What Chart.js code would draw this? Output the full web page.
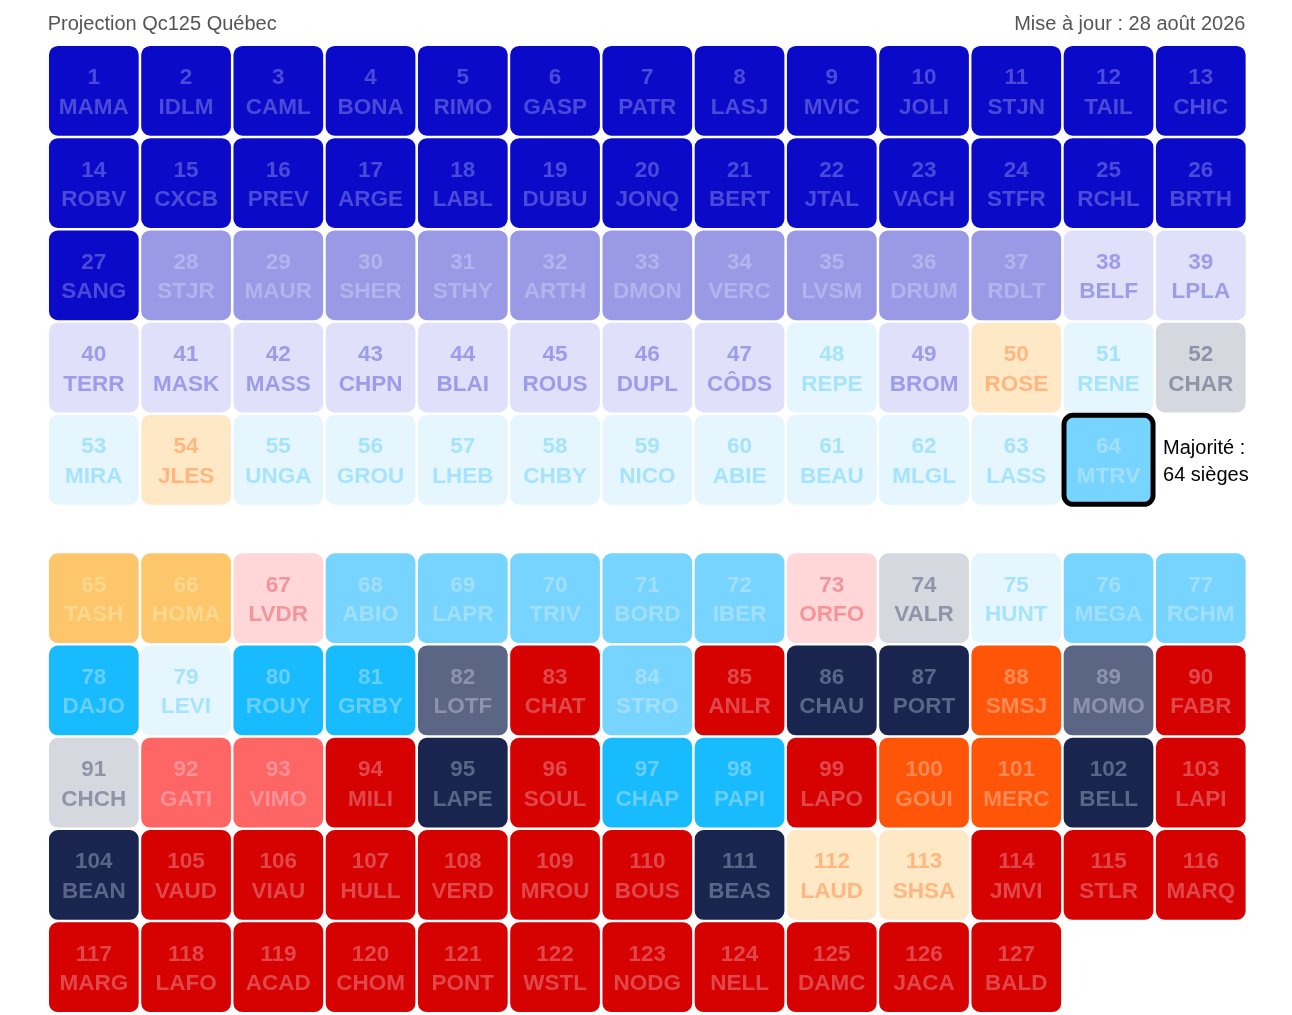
<!DOCTYPE html>
<html lang="fr">
<head>
<meta charset="utf-8">
<title>Projection Qc125 Québec</title>
<script src="https://cdn.jsdelivr.net/npm/chart.js@4.4.1/dist/chart.umd.min.js"></script>
<style>
  html, body { margin: 0; padding: 0; background: #ffffff; }
  #wrap { position: relative; width: 1292px; height: 1015px; }
</style>
</head>
<body>
<div id="wrap"><canvas id="chart"></canvas></div>
<script>
// ---------------- DATA ----------------
const chartTitle = "Projection Qc125 Québec";
const updateText = "Mise à jour : 28 août 2026";
const majorityLines = ["Majorité :", "64 sièges"];
const majoritySeat = 64;
const columnsPerRow = 13;
const columnLabels = ["1","2","3","4","5","6","7","8","9","10","11","12","13"];

const seatCodes = [
  "MAMA","IDLM","CAML","BONA","RIMO","GASP","PATR","LASJ","MVIC","JOLI","STJN","TAIL","CHIC",
  "ROBV","CXCB","PREV","ARGE","LABL","DUBU","JONQ","BERT","JTAL","VACH","STFR","RCHL","BRTH",
  "SANG","STJR","MAUR","SHER","STHY","ARTH","DMON","VERC","LVSM","DRUM","RDLT","BELF","LPLA",
  "TERR","MASK","MASS","CHPN","BLAI","ROUS","DUPL","CÔDS","REPE","BROM","ROSE","RENE","CHAR",
  "MIRA","JLES","UNGA","GROU","LHEB","CHBY","NICO","ABIE","BEAU","MLGL","LASS","MTRV",
  "TASH","HOMA","LVDR","ABIO","LAPR","TRIV","BORD","IBER","ORFO","VALR","HUNT","MEGA","RCHM",
  "DAJO","LEVI","ROUY","GRBY","LOTF","CHAT","STRO","ANLR","CHAU","PORT","SMSJ","MOMO","FABR",
  "CHCH","GATI","VIMO","MILI","LAPE","SOUL","CHAP","PAPI","LAPO","GOUI","MERC","BELL","LAPI",
  "BEAN","VAUD","VIAU","HULL","VERD","MROU","BOUS","BEAS","LAUD","SHSA","JMVI","STLR","MARQ",
  "MARG","LAFO","ACAD","CHOM","PONT","WSTL","NODG","NELL","DAMC","JACA","BALD"
];

// projected status of each seat (party + confidence level)
const seatStatus = [
  "PQ3","PQ3","PQ3","PQ3","PQ3","PQ3","PQ3","PQ3","PQ3","PQ3","PQ3","PQ3","PQ3",
  "PQ3","PQ3","PQ3","PQ3","PQ3","PQ3","PQ3","PQ3","PQ3","PQ3","PQ3","PQ3","PQ3",
  "PQ3","PQ2","PQ2","PQ2","PQ2","PQ2","PQ2","PQ2","PQ2","PQ2","PQ2","PQ1","PQ1",
  "PQ1","PQ1","PQ1","PQ1","PQ1","PQ1","PQ1","PQ1","CAQ1","PQ1","QS1","CAQ1","PCQ1",
  "CAQ1","QS1","CAQ1","CAQ1","CAQ1","CAQ1","CAQ1","CAQ1","CAQ1","CAQ1","CAQ1","CAQ2",
  "QS2","QS2","PLQ1","CAQ2","CAQ2","CAQ2","CAQ2","CAQ2","PLQ1","PCQ1","CAQ1","CAQ2","CAQ2",
  "CAQ3","CAQ1","CAQ3","CAQ3","PCQ2","PLQ3","CAQ2","PLQ3","PCQ3","PCQ3","QS3","PCQ2","PLQ3",
  "PCQ1","PLQ2","PLQ2","PLQ3","PCQ3","PLQ3","CAQ3","CAQ3","PLQ3","QS3","QS3","PCQ3","PLQ3",
  "PCQ3","PLQ3","PLQ3","PLQ3","PLQ3","PLQ3","PLQ3","PCQ3","QS1","QS1","PLQ3","PLQ3","PLQ3",
  "PLQ3","PLQ3","PLQ3","PLQ3","PLQ3","PLQ3","PLQ3","PLQ3","PLQ3","PLQ3","PLQ3"
];

// ---------------- STYLES ----------------
const statusFill = {
  PQ3: "#0c0ac9", PQ2: "#9999e5", PQ1: "#e0e0fb",
  CAQ3: "#18bcfe", CAQ2: "#77d4fe", CAQ1: "#e5f6fe",
  PLQ3: "#d50201", PLQ2: "#fe6565", PLQ1: "#ffd7d9",
  QS3: "#fe5508", QS2: "#fec66a", QS1: "#ffe8c5",
  PCQ3: "#19254f", PCQ2: "#5b6584", PCQ1: "#d5d8df"
};
const statusText = {
  PQ3: "#4b4ad8", PQ2: "#b3b3ee", PQ1: "#9c9cea",
  CAQ3: "#66cffc", CAQ2: "#a0e0fd", CAQ1: "#a6e3fc",
  PLQ3: "#e0474a", PLQ2: "#fe9296", PLQ1: "#f3959b",
  QS3: "#fe8b55", QS2: "#fdd88f", QS1: "#ffb77f",
  PCQ3: "#5a6588", PCQ2: "#8c94ad", PCQ1: "#8e95a9"
};
const FONT = '"Liberation Sans", Arial, Helvetica, sans-serif';
const TILE_GAP = 1.6;

// ---------------- BUILD ----------------
// seats up to the majority fill the upper block, the rest the lower block (half-row gap between)
const tiles = seatCodes.map((code, i) => {
  const lower = i >= majoritySeat;
  const k = lower ? i - majoritySeat : i;
  const row = Math.floor(k / columnsPerRow) + (lower ? 5.5 : 0);
  return { x: columnLabels[k % columnsPerRow], y: [row, row + 1] };
});

const tileLabels = {
  id: 'tileLabels',
  afterDatasetsDraw(chart) {
    const ctx = chart.ctx;
    const meta = chart.getDatasetMeta(0);
    ctx.save();
    meta.data.forEach((bar, i) => {
      const p = bar.getProps(['x', 'y', 'base', 'width'], true);
      const top = Math.min(p.y, p.base), bottom = Math.max(p.y, p.base);
      const cy = (top + bottom) / 2;
      if (i + 1 === majoritySeat) {
        const l = p.x - p.width / 2 + TILE_GAP, r = p.x + p.width / 2 - TILE_GAP;
        const t = top + TILE_GAP, b = bottom - TILE_GAP, rad = 9;
        ctx.beginPath();
        ctx.moveTo(l + rad, t);
        ctx.lineTo(r - rad, t); ctx.arcTo(r, t, r, t + rad, rad);
        ctx.lineTo(r, b - rad); ctx.arcTo(r, b, r - rad, b, rad);
        ctx.lineTo(l + rad, b); ctx.arcTo(l, b, l, b - rad, rad);
        ctx.lineTo(l, t + rad); ctx.arcTo(l, t, l + rad, t, rad);
        ctx.closePath();
        ctx.lineWidth = 5;
        ctx.strokeStyle = '#000000';
        ctx.stroke();
        ctx.fillStyle = '#000000';
        ctx.font = '20px ' + FONT;
        ctx.textAlign = 'left';
        ctx.textBaseline = 'alphabetic';
        ctx.fillText(majorityLines[0], r + 10, cy - 6);
        ctx.fillText(majorityLines[1], r + 10, cy + 21);
      }
      ctx.fillStyle = statusText[seatStatus[i]];
      ctx.font = 'bold 22.5px ' + FONT;
      ctx.textAlign = 'center';
      ctx.textBaseline = 'alphabetic';
      ctx.fillText(String(i + 1), p.x, cy - 6.5);
      ctx.fillText(seatCodes[i], p.x, cy + 23);
    });
    ctx.restore();
  },
  afterDraw(chart) {
    const ctx = chart.ctx;
    const a = chart.chartArea;
    ctx.save();
    ctx.fillStyle = '#555555';
    ctx.font = '20px ' + FONT;
    ctx.textBaseline = 'alphabetic';
    ctx.textAlign = 'left';
    ctx.fillText(chartTitle, a.left, a.top - 15);
    ctx.textAlign = 'right';
    ctx.fillText(updateText, a.right - 1.5, a.top - 15);
    ctx.restore();
  }
};

new Chart(document.getElementById('chart'), {
  type: 'bar',
  data: {
    labels: columnLabels,
    datasets: [{
      label: 'Sièges',
      data: tiles,
      backgroundColor: seatStatus.map(s => statusFill[s]),
      borderColor: '#ffffff',
      borderWidth: TILE_GAP,
      borderSkipped: false,
      borderRadius: { topLeft: 10.5, topRight: 10.5, bottomLeft: 10.5, bottomRight: 10.5 },
      barPercentage: 1,
      categoryPercentage: 1
    }]
  },
  options: {
    responsive: true,
    maintainAspectRatio: false,
    animation: false,
    devicePixelRatio: window.devicePixelRatio || 1,
    layout: { padding: { left: 47.7, right: 45.1, top: 44.7, bottom: 1.7 } },
    scales: {
      x: { type: 'category', display: false, offset: true, grid: { display: false } },
      y: { type: 'linear', display: false, min: 0, max: 10.5, reverse: true, grid: { display: false } }
    },
    plugins: {
      legend: { display: false },
      tooltip: { enabled: false },
      title: { display: false }
    }
  },
  plugins: [tileLabels]
});
</script>
</body>
</html>
